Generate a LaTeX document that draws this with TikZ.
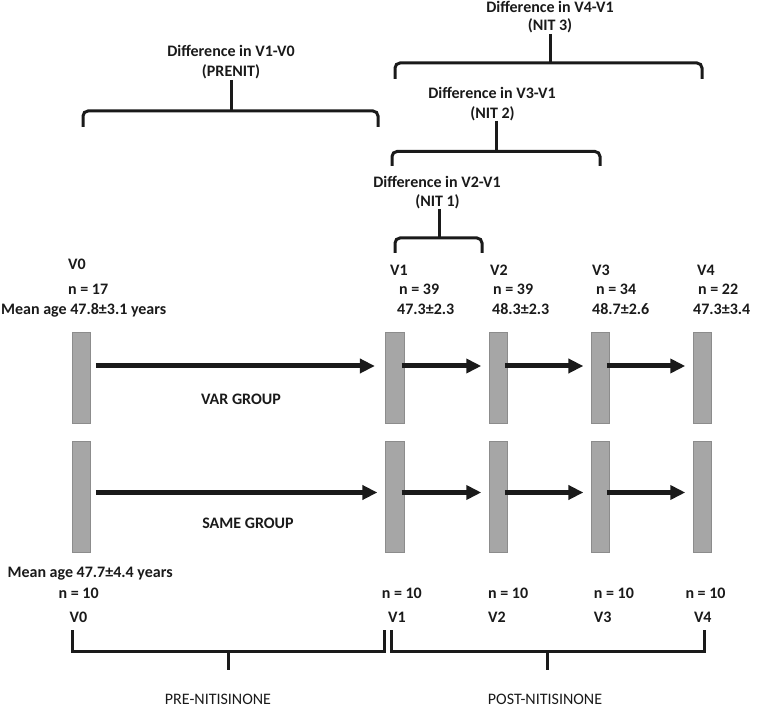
\documentclass[tikz,border=0pt]{standalone}
\usepackage{fontspec}
\setmainfont{Carlito}
\usetikzlibrary{arrows.meta}
\definecolor{bargray}{HTML}{A6A6A6}
\definecolor{bardraw}{HTML}{8C8C8C}
\definecolor{ink}{HTML}{1A1A1A}
\tikzset{
  lbl/.style={inner sep=0pt, anchor=base west, font=\fontsize{16}{19}\selectfont\bfseries, text=ink},
  clbl/.style={inner sep=0pt, anchor=base, font=\fontsize{16}{19}\selectfont\bfseries, text=ink},
  rlbl/.style={inner sep=0pt, anchor=base, font=\fontsize{16}{19}\selectfont, text=ink},
  bar/.style={draw=bardraw, fill=bargray, line width=0.8pt, minimum width=18.5pt, inner sep=0pt},
  barA/.style={bar, minimum height=91pt},
  barB/.style={bar, minimum height=111pt},
  arr/.style={ink, line width=5pt, -{Triangle[length=15pt,width=14pt]}},
  brace/.style={ink, line width=3pt, rounded corners=5pt},
  stem/.style={ink, line width=3pt},
  bracket/.style={ink, line width=3pt, miter limit=10}
}
\begin{document}
\begin{tikzpicture}[x=1pt,y=-1pt]
\useasboundingbox (0,0) rectangle (777,708);

% top labels
\node[clbl] (d10) at (231,57) {Difference in V1-V0};
\node[clbl] (p10) at (231,77) {(PRENIT)};
\node[clbl] (d41) at (550,12.5) {Difference in V4-V1};
\node[clbl] (p41) at (550,31) {(NIT 3)};
\node[clbl] (d31) at (492,99) {Difference in V3-V1};
\node[clbl] (p31) at (492.5,119) {(NIT 2)};
\node[clbl] (d21) at (437,188) {Difference in V2-V1};
\node[clbl] (p21) at (437.5,207) {(NIT 1)};

% braces
\draw[brace] (83,127) -- (83,111) -- (378,111) -- (378,127);
\draw[stem] (231,80) -- (231,111);
\draw[brace] (395,79) -- (395,63) -- (702,63) -- (702,79);
\draw[stem] (550,34) -- (550,63);
\draw[brace] (392,166) -- (392,151.5) -- (600,151.5) -- (600,166);
\draw[stem] (496,121) -- (496,151.5);
\draw[brace] (395,253) -- (395,238) -- (482,238) -- (482,253);
\draw[stem] (439,209) -- (439,238);

% header labels (VAR group)
\node[lbl] (hv0) at (68,270) {V0};
\node[lbl] (hn0) at (68,295) {n = 17};
\node[lbl] (ha0) at (1,315) {Mean age 47.8±3.1 years};
\node[lbl] (hv1) at (390,276) {V1};
\node[lbl] (hn1) at (399,295) {n = 39};
\node[lbl] (ha1) at (397,315) {47.3±2.3};
\node[lbl] (hv2) at (490,276) {V2};
\node[lbl] (hn2) at (493,295) {n = 39};
\node[lbl] (ha2) at (492,315) {48.3±2.3};
\node[lbl] (hv3) at (592,276) {V3};
\node[lbl] (hn3) at (596,295) {n = 34};
\node[lbl] (ha3) at (592,315) {48.7±2.6};
\node[lbl] (hv4) at (697,276) {V4};
\node[lbl] (hn4) at (698,295) {n = 22};
\node[lbl] (ha4) at (693,315) {47.3±3.4};

% bars row A
\node[barA] (a0) at (81.3,377.5) {};
\node[barA] (a1) at (395,377.5) {};
\node[barA] (a2) at (498.2,377.5) {};
\node[barA] (a3) at (600.3,377.5) {};
\node[barA] (a4) at (702.2,377.5) {};
% bars row B
\node[barB] (b0) at (81.3,496.5) {};
\node[barB] (b1) at (395,496.5) {};
\node[barB] (b2) at (498.2,496.5) {};
\node[barB] (b3) at (600.3,496.5) {};
\node[barB] (b4) at (702.2,496.5) {};

% arrows row A
\draw[arr, shorten <=5pt, shorten >=10.5pt] ([yshift=11.5pt]a0.east) -- ([yshift=11.5pt]a1.west);
\draw[arr, shorten <=-3pt, shorten >=7.3pt] ([yshift=11.5pt]a1.east) -- ([yshift=11.5pt]a2.west);
\draw[arr, shorten <=-3pt, shorten >=7.3pt] ([yshift=11.5pt]a2.east) -- ([yshift=11.5pt]a3.west);
\draw[arr, shorten <=-3pt, shorten >=7.3pt] ([yshift=11.5pt]a3.east) -- ([yshift=11.5pt]a4.west);
% arrows row B
\draw[arr, shorten <=5pt, shorten >=8pt] ([yshift=4pt]b0.east) -- ([yshift=4pt]b1.west);
\draw[arr, shorten <=-3pt, shorten >=7.3pt] ([yshift=4pt]b1.east) -- ([yshift=4pt]b2.west);
\draw[arr, shorten <=-3pt, shorten >=7.3pt] ([yshift=4pt]b2.east) -- ([yshift=4pt]b3.west);
\draw[arr, shorten <=-3pt, shorten >=7.3pt] ([yshift=4pt]b3.east) -- ([yshift=4pt]b4.west);

\node[clbl] (var) at (241,405) {VAR GROUP};
\node[clbl] (same) at (248,529) {SAME GROUP};

% bottom labels (SAME group)
\node[lbl] (fa0) at (7.4,577) {Mean age 47.7±4.4 years};
\node[lbl] (fn0) at (58.5,598) {n = 10};
\node[lbl] (fn1) at (381.6,598) {n = 10};
\node[lbl] (fn2) at (488,598) {n = 10};
\node[lbl] (fn3) at (593.7,598) {n = 10};
\node[lbl] (fn4) at (685.3,598) {n = 10};
\node[lbl] (fv0) at (69.4,622) {V0};
\node[lbl] (fv1) at (388,622) {V1};
\node[lbl] (fv2) at (488,622) {V2};
\node[lbl] (fv3) at (593.7,622) {V3};
\node[lbl] (fv4) at (693.8,622) {V4};

% bottom brackets
\draw[bracket] (72,630) -- (72,651) -- (384,651) -- (384,630);
\draw[stem] (228,651) -- (228,670);
\draw[bracket] (391.5,630) -- (391.5,651) -- (704.7,651) -- (704.7,630);
\draw[stem] (547.6,651) -- (547.6,670);

\node[rlbl] (pre) at (218,704.5) {PRE-NITISINONE};
\node[rlbl] (post) at (545,704) {POST-NITISINONE};
\end{tikzpicture}
\end{document}
